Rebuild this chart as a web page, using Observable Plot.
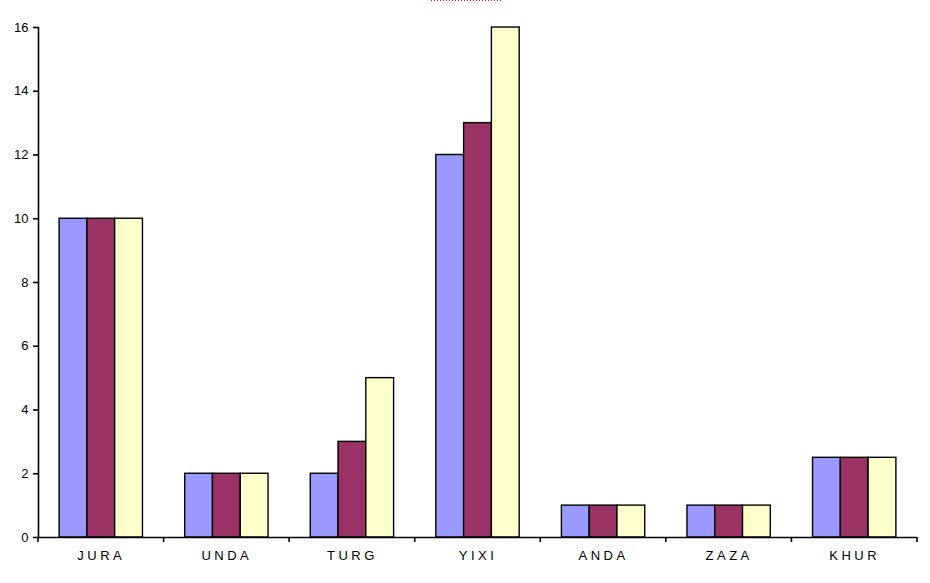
<!DOCTYPE html>
<html>
<head>
<meta charset="utf-8">
<script src="https://cdn.jsdelivr.net/npm/d3@7"></script>
<script src="https://cdn.jsdelivr.net/npm/@observablehq/plot@0.6"></script>
<style>
  html, body { margin: 0; padding: 0; background: #fff; }
  #wrap { position: relative; width: 930px; height: 583px; }
  #mark { position: absolute; left: 431px; top: 0; width: 70px; height: 1px;
          background-image: repeating-linear-gradient(to right, #ff0000 0 1px, transparent 1px 3px); }
  svg { font-family: "Liberation Sans", Arial, sans-serif; }
</style>
</head>
<body>
<div id="wrap"><div id="mark"></div></div>
<script>
const categories = ["JURA", "UNDA", "TURG", "YIXI", "ANDA", "ZAZA", "KHUR"];
const seriesNames = ["Series1", "Series2", "Series3"];
const series1 = [10, 2, 2, 12, 1, 1, 2.5];
const series2 = [10, 2, 3, 13, 1, 1, 2.5];
const series3 = [10, 2, 5, 16, 1, 1, 2.5];
const yTicks = [0, 2, 4, 6, 8, 10, 12, 14, 16];
const colors = ["#9999FF", "#993366", "#FFFFCC"];

const seriesValues = [series1, series2, series3];
const data = [];
categories.forEach((c, i) => {
  seriesNames.forEach((s, j) => {
    data.push({category: c, series: s, value: seriesValues[j][i]});
  });
});

const plot = Plot.plot({
  width: 930,
  height: 583,
  marginTop: 27,
  marginBottom: 46,
  marginLeft: 38,
  marginRight: 13,
  style: {fontFamily: "Liberation Sans, Arial, sans-serif", fontSize: "13px", color: "#000", background: "#fff"},
  fx: {domain: categories, padding: 0, round: false, label: null},
  x: {type: "band", domain: seriesNames, paddingInner: 0, paddingOuter: 0.76, round: false, axis: null},
  y: {domain: [0, 16], ticks: yTicks, label: null},
  color: {domain: seriesNames, range: colors},
  marks: [
    Plot.barY(data, {fx: "category", x: "series", y: "value", fill: "series", stroke: "#000", strokeWidth: 1.4, inset: 0}),
    Plot.ruleY([0], {stroke: "#000", strokeWidth: 1.6}),
    Plot.frame({anchor: "left", facetAnchor: "left", stroke: "#000", strokeWidth: 1.6}),
    Plot.axisY({ticks: yTicks, tickSize: 5, tickPadding: 5, tickFormat: d => String(d), stroke: "#000", strokeWidth: 1.6, fontSize: 13}),
    Plot.axisFx({anchor: "bottom", tickSize: 0, tickPadding: 13, fontSize: 13, label: null})
  ]
});

// letter spacing for category labels
d3.select(plot).selectAll('[aria-label="fx-axis tick label"] text').style("letter-spacing", "3.5px");

// tick marks at category boundaries, using the fx scale
const fx = plot.scale("fx");
const y = plot.scale("y");
const y0 = y.apply(0);
const bounds = categories.map(c => fx.apply(c)).concat([fx.apply(categories[categories.length - 1]) + fx.bandwidth]);
const g = d3.select(plot).append("g").attr("stroke", "#000").attr("stroke-width", 1.6);
bounds.forEach(bx => {
  g.append("line").attr("x1", bx).attr("x2", bx).attr("y1", y0).attr("y2", y0 + 5);
});

document.getElementById("wrap").appendChild(plot);
</script>
</body>
</html>
